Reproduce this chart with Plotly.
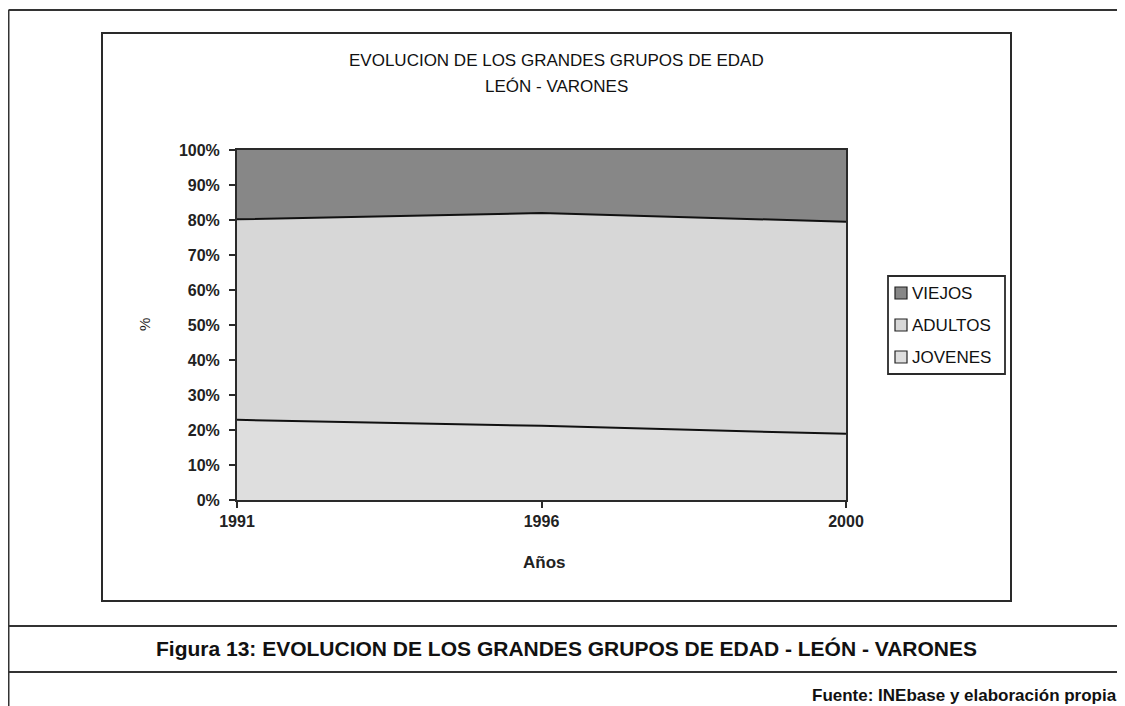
import plotly.graph_objects as go

# datos (% sobre el total de varones)
years = ["1991", "1996", "2000"]
jovenes = [22.9, 21.2, 18.9]
adultos = [57.3, 60.8, 60.6]
viejos = [19.8, 18.0, 20.5]

series_names = ["VIEJOS", "ADULTOS", "JOVENES"]
series_colors = ["#878787", "#d7d7d7", "#dedede"]

# la pagina deja 8px de margen: todo se dibuja desplazado
OFF = 8
W, H = 1125 - OFF, 706 - OFF
# area del grafico en pixeles de pantalla
X0, X1, Y0, Y1 = 237, 846, 150, 500


def px(x):
    return (x - X0) / (X1 - X0)


def py(y):
    return (Y1 - y) / (Y1 - Y0)


FONT = "Liberation Sans, Arial, sans-serif"
LINE = "#2a2a2a"

fig = go.Figure()
# orden de apilado: jovenes abajo
for name, vals, col in [("JOVENES", jovenes, series_colors[2]),
                        ("ADULTOS", adultos, series_colors[1]),
                        ("VIEJOS", viejos, series_colors[0])]:
    fig.add_trace(go.Scatter(
        x=years, y=vals, name=name, mode="lines",
        stackgroup="one", groupnorm="percent",
        fillcolor=col,
        line=dict(color="#111111", width=2 if name != "VIEJOS" else 0),
        showlegend=False,
        hovertemplate="%{x}: %{y:.1f}%<extra>" + name + "</extra>",
    ))

shapes = []
# marco exterior
for (xa, xb, ya, yb) in [(OFF + 0.5, 1135, 10, 10), (OFF + 0.5, OFF + 0.5, 10, 715),
                         (OFF + 0.5, 1135, 626, 626), (OFF + 0.5, 1135, 672, 672)]:
    shapes.append(dict(type="line", xref="paper", yref="paper", x0=px(xa), x1=px(xb),
                       y0=py(ya), y1=py(yb), line=dict(color="#333", width=2)))
# marco del grafico
shapes.append(dict(type="rect", xref="paper", yref="paper", x0=px(102), x1=px(1011), y0=py(33), y1=py(601),
                   line=dict(color=LINE, width=2), layer="below"))
# leyenda
shapes.append(dict(type="rect", xref="paper", yref="paper", x0=px(888), x1=px(1005), y0=py(276), y1=py(374),
                   line=dict(color=LINE, width=1.8)))

annotations = []
row_y = [293, 325, 357]
for name, col, ry in zip(series_names, series_colors, row_y):
    shapes.append(dict(type="rect", xref="paper", yref="paper", x0=px(895), x1=px(907),
                       y0=py(ry - 6), y1=py(ry + 6), fillcolor=col, line=dict(color="#222", width=1.2)))
    annotations.append(dict(text=name, x=px(910), y=py(ry), xanchor="left",
                            font=dict(family=FONT, size=17, color="#111")))

for txt, yy in [("EVOLUCION DE LOS GRANDES GRUPOS DE EDAD", 60), ("LEÓN - VARONES", 86)]:
    annotations.append(dict(text=txt, x=px(556), y=py(yy),
                            font=dict(family=FONT, size=17, color="#111")))

annotations += [
    dict(text="%", x=px(144), y=py(325), textangle=-90,
         font=dict(family=FONT, size=15, color="#222")),
    dict(text="<b>Años</b>", x=px(544), y=py(562),
         font=dict(family=FONT, size=17, color="#222")),
    dict(text="<b>Figura 13: EVOLUCION DE LOS GRANDES GRUPOS DE EDAD - LEÓN - VARONES</b>",
         x=px(566), y=py(648), font=dict(family=FONT, size=21, color="#111")),
    dict(text="<b>Fuente: INEbase y elaboración propia</b>", x=px(1119), y=py(695), xanchor="right",
         font=dict(family=FONT, size=17, color="#111")),
]
for a in annotations:
    a.setdefault("xanchor", "center")
    a.update(xref="paper", yref="paper", yanchor="middle", showarrow=False)

fig.update_layout(
    width=W, height=H,
    margin=dict(l=X0 - OFF, r=W - (X1 - OFF), t=Y0 - OFF, b=H - (Y1 - OFF), pad=0),
    paper_bgcolor="white", plot_bgcolor="white",
    shapes=shapes, annotations=annotations,
    showlegend=False,
)
fig.update_xaxes(type="category", range=[0, 2], showgrid=False, zeroline=False,
                 showline=True, linecolor=LINE, linewidth=2, mirror=True,
                 ticks="outside", ticklen=6, tickcolor=LINE, tickwidth=1.5,
                 tickfont=dict(family=FONT, size=16, color="#222", weight="bold"))
fig.update_yaxes(range=[0, 100], dtick=10, ticksuffix="%", showgrid=False, zeroline=False,
                 showline=True, linecolor=LINE, linewidth=2, mirror=True,
                 ticks="outside", ticklen=6, tickcolor=LINE, tickwidth=1.5, ticklabelstandoff=6,
                 tickfont=dict(family=FONT, size=16, color="#222", weight="bold"))

fig.write_html("out.html")
